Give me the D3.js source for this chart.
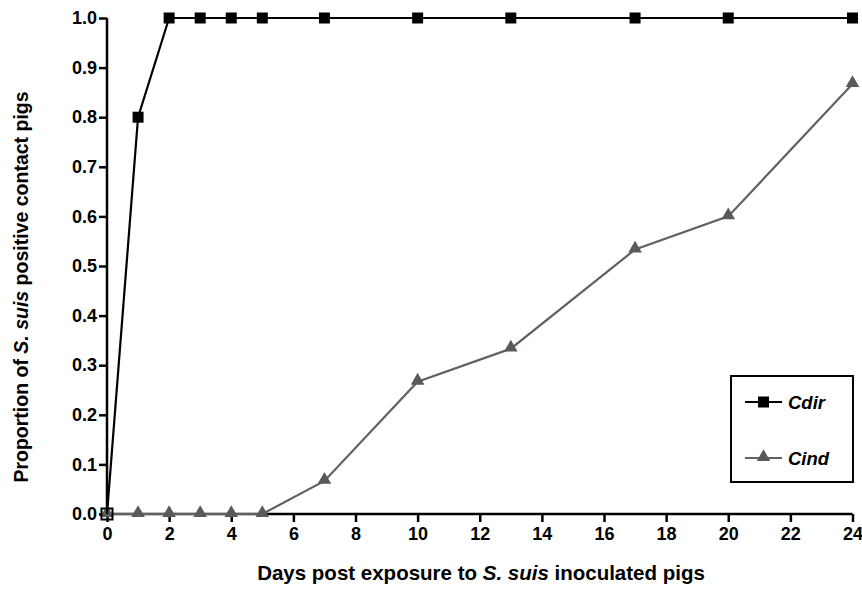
<!DOCTYPE html>
<html>
<head>
<meta charset="utf-8">
<script src="https://cdn.jsdelivr.net/npm/d3@7"></script>
<style>
  body { margin: 0; background: #fff; }
  text { font-family: "Liberation Sans", Arial, sans-serif; font-weight: bold; }
</style>
</head>
<body>
<div id="container"></div>
<script>
let w = 862;
let h = 590;

// data
let days = [0, 1, 2, 3, 4, 5, 7, 10, 13, 17, 20, 24];
let cdir = [0, 0.8, 1, 1, 1, 1, 1, 1, 1, 1, 1, 1];
let cind = [0, 0, 0, 0, 0, 0, 0.0667, 0.2667, 0.3333, 0.5333, 0.6, 0.8667];
let xTicks = [0, 2, 4, 6, 8, 10, 12, 14, 16, 18, 20, 22, 24];
let yTicks = [0, 0.1, 0.2, 0.3, 0.4, 0.5, 0.6, 0.7, 0.8, 0.9, 1.0];

let viz = d3.select("#container")
  .append("svg")
    .attr("width", w)
    .attr("height", h)
    .style("background-color", "white");

let xScale = d3.scaleLinear().domain([0, 24]).range([107, 852.5]);
let yScale = d3.scaleLinear().domain([0, 1]).range([514, 18]);

// axes
let xAxis = d3.axisBottom(xScale).tickValues(xTicks).tickSize(8).tickPadding(5).tickFormat(d3.format("d"));
let yAxis = d3.axisLeft(yScale).tickValues(yTicks).tickSize(8).tickPadding(2).tickFormat(d3.format(".1f"));

let gx = viz.append("g").attr("transform", "translate(0,514)").call(xAxis);
let gy = viz.append("g").attr("transform", "translate(107,0)").call(yAxis);

[gx, gy].forEach(function(g){
  g.attr("font-size", null).attr("font-family", null);
  g.select(".domain").attr("stroke", "black").attr("stroke-width", 2.5);
  g.selectAll(".tick line").attr("stroke", "black").attr("stroke-width", 2.5);
  g.selectAll(".tick text")
    .attr("fill", "black")
    .style("font-size", "18px")
    .style("font-weight", "bold");
});
gx.select(".domain").attr("d", "M107,0H852.5");
gy.select(".domain").attr("d", "M0,18V514");

// lines
let line = d3.line()
  .x(function(d){ return xScale(d[0]); })
  .y(function(d){ return yScale(d[1]); });

let indData = days.map(function(d, i){ return [d, cind[i]]; });
let dirData = days.map(function(d, i){ return [d, cdir[i]]; });

viz.append("path")
  .attr("d", line(indData))
  .attr("fill", "none")
  .attr("stroke", "#616161")
  .attr("stroke-width", 2.2);

let tri = d3.symbol().type(d3.symbolTriangle).size(80);
viz.selectAll(".tri").data(indData).enter()
  .append("path")
    .attr("class", "tri")
    .attr("d", tri)
    .attr("fill", "#585c58")
    .attr("transform", function(d){ return "translate(" + xScale(d[0]) + "," + (yScale(d[1]) - 1) + ")"; });

viz.append("path")
  .attr("d", line(dirData))
  .attr("fill", "none")
  .attr("stroke", "black")
  .attr("stroke-width", 2.2);

viz.selectAll(".sq").data(dirData).enter()
  .append("rect")
    .attr("class", "sq")
    .attr("x", function(d){ return xScale(d[0]) - 5.5; })
    .attr("y", function(d){ return yScale(d[1]) - 5.5; })
    .attr("width", 11)
    .attr("height", 11)
    .attr("fill", function(d){ return d[1] === 0 ? "none" : "black"; })
    .attr("stroke", "black")
    .attr("stroke-width", function(d){ return d[1] === 0 ? 2 : 0; });

// legend
let legend = viz.append("g");
legend.append("rect")
  .attr("x", 731).attr("y", 376)
  .attr("width", 122).attr("height", 106)
  .attr("fill", "white")
  .attr("stroke", "black")
  .attr("stroke-width", 2);

legend.append("line")
  .attr("x1", 745).attr("x2", 782).attr("y1", 402).attr("y2", 402)
  .attr("stroke", "black").attr("stroke-width", 2.2);
legend.append("rect")
  .attr("x", 758).attr("y", 396.5).attr("width", 11).attr("height", 11)
  .attr("fill", "black");
legend.append("text")
  .attr("x", 788).attr("y", 409)
  .style("font-size", "18.5px").style("font-style", "italic")
  .text("Cdir");

legend.append("line")
  .attr("x1", 745).attr("x2", 782).attr("y1", 458).attr("y2", 458)
  .attr("stroke", "#616161").attr("stroke-width", 2.2);
legend.append("path")
  .attr("d", tri)
  .attr("fill", "#585c58")
  .attr("transform", "translate(763.5,457)");
legend.append("text")
  .attr("x", 788).attr("y", 465)
  .style("font-size", "18.5px").style("font-style", "italic")
  .text("Cind");

// axis titles
let xt = viz.append("text")
  .attr("x", 481).attr("y", 580)
  .attr("text-anchor", "middle")
  .style("font-size", "20.5px");
xt.append("tspan").text("Days post exposure to ");
xt.append("tspan").style("font-style", "italic").text("S. suis");
xt.append("tspan").text(" inoculated pigs");

let yt = viz.append("text")
  .attr("transform", "translate(28,287) rotate(-90)")
  .attr("text-anchor", "middle")
  .style("font-size", "19.5px");
yt.append("tspan").text("Proportion of ");
yt.append("tspan").style("font-style", "italic").text("S. suis");
yt.append("tspan").text(" positive contact pigs");
</script>
</body>
</html>
